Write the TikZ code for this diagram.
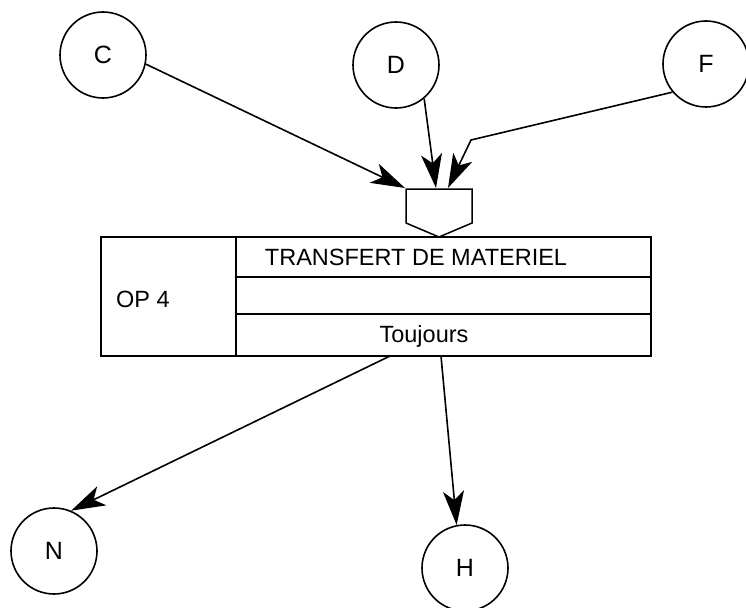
\documentclass[tikz,border=0pt]{standalone}
\usepackage{fontspec}
\setmainfont{Liberation Sans}
\usetikzlibrary{arrows.meta}
\begin{document}
\begin{tikzpicture}[x=1pt,y=-1pt,
  every node/.style={font=\fontsize{23.5}{27}\selectfont},
  state/.style={draw, circle, line width=1.6pt, minimum size=86pt, inner sep=0pt, font=\fontsize{25}{29}\selectfont},
  arr/.style={line width=1.6pt, -{Stealth[length=34pt,width=21pt,inset=9pt]}},
  ln/.style={line width=1.5pt},
  lbl/.style={inner sep=0pt}]
\useasboundingbox (0,0) rectangle (746,607);
% circles
\node[state] (C) at (103,55) {C};
\node[state] (D) at (396,65) {D};
\node[state] (F) at (706,64) {F};
\node[state] (N) at (54,551) {N};
\node[state] (H) at (465,568) {H};
% pentagon connector
\coordinate (pa) at (406,189);
\coordinate (pb) at (472,189);
\coordinate (pc) at (472,223);
\coordinate (pd) at (439,237);
\coordinate (pe) at (406,223);
\draw[ln, line join=miter] (pa) -- (pb) -- (pc) -- (pd) -- (pe) -- cycle;
% operation box
\node[draw, ln, rectangle, minimum width=550pt, minimum height=119pt, inner sep=0pt] (op) at (376,296.5) {};
\coordinate (dv1) at (236,237);
\coordinate (dv2) at (236,356);
\coordinate (r1l) at (236,277);
\coordinate (r1r) at (651,277);
\coordinate (r2l) at (236,314);
\coordinate (r2r) at (651,314);
\draw[ln] (dv1) -- (dv2);
\draw[ln] (r1l) -- (r1r);
\draw[ln] (r2l) -- (r2r);
\node[lbl, anchor=west] (oplbl) at (116,299) {OP 4};
\node[lbl] (title) at (416,257) {TRANSFERT DE MATERIEL};
\node[lbl] (cond) at (424,336) {Toujours};
% incoming arrows
\coordinate (tC) at (405,188);
\coordinate (tD) at (436,188);
\coordinate (bend) at (471,140);
\coordinate (tF) at (448,188);
\draw[arr] (C.-12) -- (tC);
\draw[arr] (D.-50) -- (tD);
\draw[arr] (F.220) -- (bend) -- (tF);
% outgoing arrows
\coordinate (oN) at (390,356);
\coordinate (oH) at (441,356);
\draw[arr] (oN) -- (N.67);
\draw[arr] (oH) -- (H.101);
\end{tikzpicture}
\end{document}
